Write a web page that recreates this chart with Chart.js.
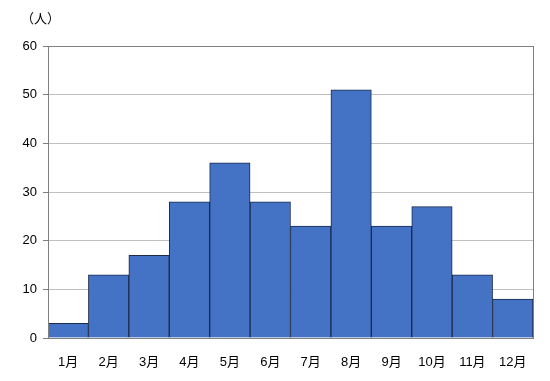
<!DOCTYPE html>
<html><head><meta charset="utf-8">
<script src="https://cdn.jsdelivr.net/npm/chart.js@4/dist/chart.umd.min.js"></script>
<style>html,body{margin:0;padding:0;background:#fff}#wrap{width:550px;height:381px}</style>
</head><body><div id="wrap"><canvas id="c" width="550" height="381"></canvas></div>
<script>
const categories = ["1月","2月","3月","4月","5月","6月","7月","8月","9月","10月","11月","12月"];
const values = [3,13,17,28,36,28,23,51,23,27,13,8];
const unitLabel = "（人）";
const FONT = "'Liberation Sans','Noto Sans CJK JP',sans-serif";

const framePlugin = {
  id: 'frame',
  afterDraw(chart) {
    const ctx = chart.ctx, a = chart.chartArea;
    ctx.save();
    ctx.strokeStyle = '#808080';
    ctx.lineWidth = 1;
    ctx.strokeRect(Math.round(a.left)+0.5, Math.round(a.top)+0.5, Math.round(a.right-a.left), Math.round(a.bottom-a.top));
    ctx.fillStyle = '#000';
    ctx.font = "13px " + FONT;
    ctx.textBaseline = 'middle';
    ctx.textAlign = 'left';
    ctx.fillText(unitLabel, 21, 19);
    ctx.restore();
  }
};

new Chart(document.getElementById('c'), {
  type: 'bar',
  data: { labels: categories, datasets: [{ data: values, backgroundColor: '#4472C4', borderColor: '#1A2B4C', borderWidth: 1, barPercentage: 1, categoryPercentage: 1 }] },
  options: {
    responsive: false, animation: false, devicePixelRatio: 1,
    layout: { padding: { top: 46, right: 17, left: 0, bottom: 0 } },
    plugins: { legend: { display: false }, tooltip: { enabled: false } },
    scales: {
      x: {
        grid: { display: false },
        border: { display: true, color: '#808080' },
        ticks: { color: '#000', padding: 9, font: { size: 13, family: FONT }, maxRotation: 0 },
        afterFit(s) { s.height = 43; }
      },
      y: {
        min: 0, max: 60,
        grid: { color: '#c0c0c0', tickLength: 5, tickColor: '#808080' },
        border: { display: true, color: '#808080' },
        ticks: { stepSize: 10, color: '#000', padding: 6, font: { size: 13, family: FONT } },
        afterFit(s) { s.width = 48; }
      }
    }
  },
  plugins: [framePlugin]
});
</script></body></html>
